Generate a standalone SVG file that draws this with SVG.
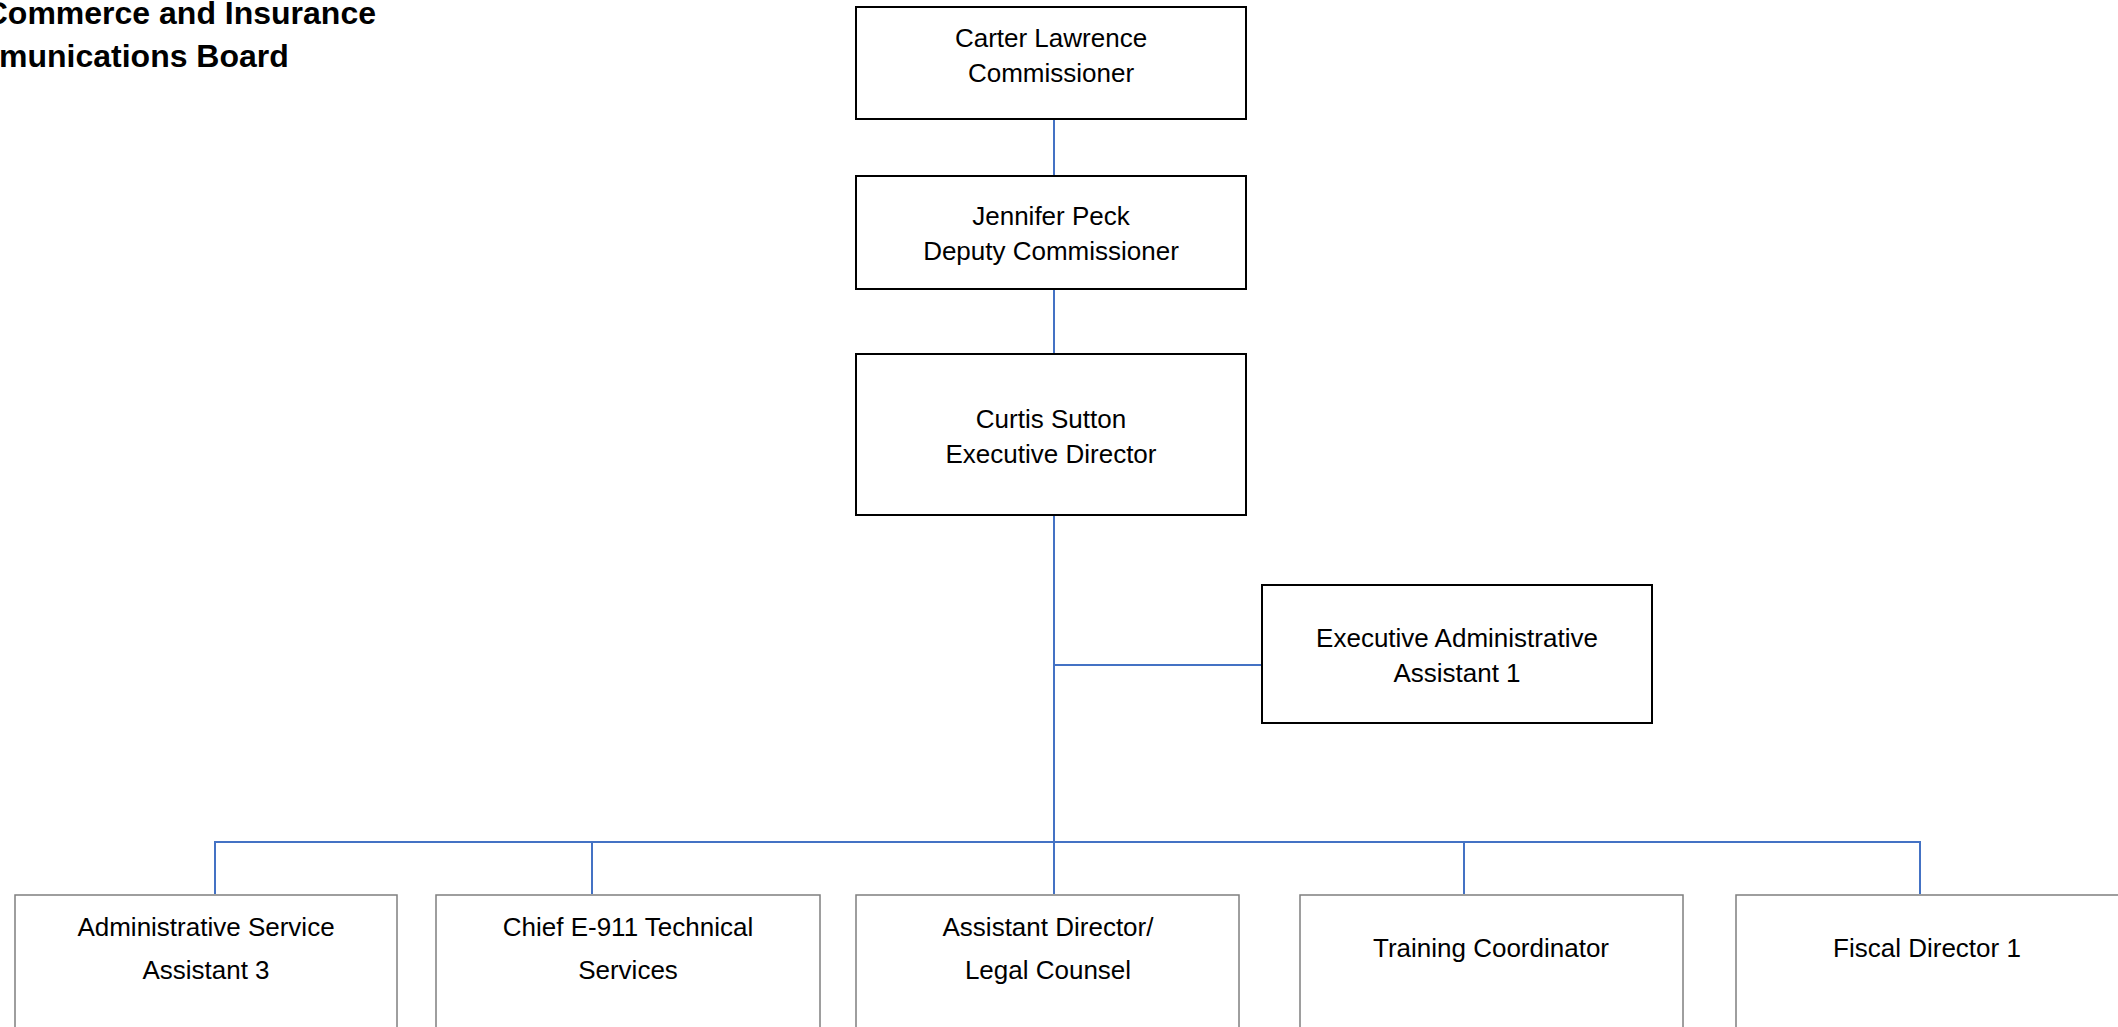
<svg xmlns="http://www.w3.org/2000/svg" width="2118" height="1027" viewBox="0 0 2118 1027">
<style>
  .top { fill: #ffffff; stroke: #000000; stroke-width: 2; }
  .bot { fill: #ffffff; stroke: #7f7f7f; stroke-width: 1.5; }
  .lbl { font-family: "Liberation Sans", Arial, sans-serif; font-size: 26px; fill: #000000; text-anchor: middle; }
  .title { font-family: "Liberation Sans", Arial, sans-serif; font-size: 32px; font-weight: bold; fill: #000000; }
  .conn { stroke: #4472c4; stroke-width: 2; fill: none; }
</style>
<rect width="2118" height="1027" fill="#ffffff"/>
<g id="title">
  <text class="title" x="376" y="24" text-anchor="end">Commerce and Insurance</text>
  <text class="title" x="-1" y="67">munications Board</text>
</g>
<g id="connectors">
  <line class="conn" x1="1054" y1="119" x2="1054" y2="176"/>
  <line class="conn" x1="1054" y1="289" x2="1054" y2="354"/>
  <line class="conn" x1="1054" y1="515" x2="1054" y2="894"/>
  <line class="conn" x1="1054" y1="665" x2="1262" y2="665"/>
  <polyline class="conn" points="215,894 215,842 1920,842 1920,894"/>
  <line class="conn" x1="592" y1="842" x2="592" y2="894"/>
  <line class="conn" x1="1464" y1="842" x2="1464" y2="894"/>
</g>
<g id="node-commissioner">
  <rect class="top" x="856" y="7" width="390" height="112"/>
  <text class="lbl" x="1051" y="47">Carter Lawrence</text>
  <text class="lbl" x="1051" y="82">Commissioner</text>
</g>
<g id="node-deputy">
  <rect class="top" x="856" y="176" width="390" height="113"/>
  <text class="lbl" x="1051" y="225">Jennifer Peck</text>
  <text class="lbl" x="1051" y="260">Deputy Commissioner</text>
</g>
<g id="node-executive-director">
  <rect class="top" x="856" y="354" width="390" height="161"/>
  <text class="lbl" x="1051" y="428">Curtis Sutton</text>
  <text class="lbl" x="1051" y="463">Executive Director</text>
</g>
<g id="node-exec-admin">
  <rect class="top" x="1262" y="585" width="390" height="138"/>
  <text class="lbl" x="1457" y="647">Executive Administrative</text>
  <text class="lbl" x="1457" y="682">Assistant 1</text>
</g>
<g id="node-admin-service">
  <rect class="bot" x="15" y="895" width="382" height="140"/>
  <text class="lbl" x="206" y="936">Administrative Service</text>
  <text class="lbl" x="206" y="979">Assistant 3</text>
</g>
<g id="node-chief-e911">
  <rect class="bot" x="436" y="895" width="384" height="140"/>
  <text class="lbl" x="628" y="936">Chief E-911 Technical</text>
  <text class="lbl" x="628" y="979">Services</text>
</g>
<g id="node-assistant-director">
  <rect class="bot" x="856" y="895" width="383" height="140"/>
  <text class="lbl" x="1048" y="936">Assistant Director/</text>
  <text class="lbl" x="1048" y="979">Legal Counsel</text>
</g>
<g id="node-training">
  <rect class="bot" x="1300" y="895" width="383" height="140"/>
  <text class="lbl" x="1491" y="957">Training Coordinator</text>
</g>
<g id="node-fiscal">
  <rect class="bot" x="1736" y="895" width="384" height="140"/>
  <text class="lbl" x="1927" y="957">Fiscal Director 1</text>
</g>
</svg>
